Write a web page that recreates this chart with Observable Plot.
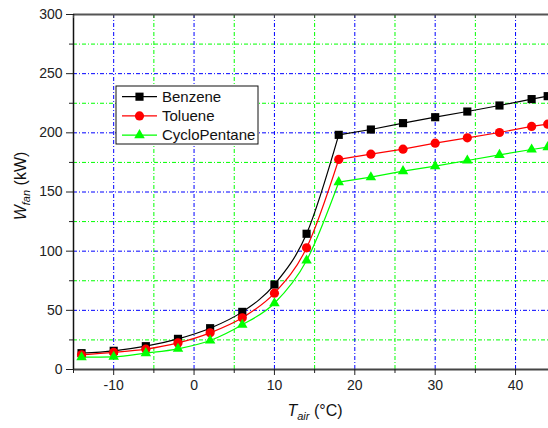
<!DOCTYPE html>
<html>
<head>
<meta charset="utf-8">
<script src="https://cdn.jsdelivr.net/npm/d3@7"></script>
<script src="https://cdn.jsdelivr.net/npm/@observablehq/plot@0.6"></script>
<style>
  html, body { margin: 0; padding: 0; background: white; overflow: hidden; }
  #chart svg { display: block; }
</style>
</head>
<body>
<div id="chart"></div>
<script>
// ---- data ----
const temps = [-14, -10, -6, -2, 2, 6, 10, 14, 18, 22, 26, 30, 34, 38, 42, 44];
const benzene = [13.8, 15.8, 19.7, 25.9, 34.9, 48.7, 71.8, 114.7, 198.3, 202.8, 208.2, 213.2, 218.0, 223.1, 228.5, 231.0];
const toluene = [12.4, 14.4, 17.2, 22.5, 31.0, 43.7, 64.5, 102.8, 177.5, 182.0, 186.2, 191.3, 195.8, 200.3, 205.4, 207.3];
const cyclo = [10.4, 10.7, 13.8, 17.5, 24.5, 37.8, 56.0, 92.1, 158.3, 162.5, 167.6, 171.8, 176.6, 181.4, 185.9, 187.9];
const seriesNames = ["Benzene", "Toluene", "CycloPentane"];
const seriesColors = ["#000000", "#ff0000", "#00ff00"];
const seriesSymbols = ["square", "circle", "triangle"];
const seriesR = [4.6, 4.6, 3.9];
const xMajor = [-10, 0, 10, 20, 30, 40];
const xMinor = [-15, -5, 5, 15, 25, 35];
const yMajor = [0, 50, 100, 150, 200, 250, 300];
const yMinor = [25, 75, 125, 175, 225, 275];
const breakT = 18; // the curves bend sharply at this temperature

const valuesBySeries = [benzene, toluene, cyclo];
const rows = [];
seriesNames.forEach((name, i) => {
  temps.forEach((t, j) => rows.push({series: name, t, w: valuesBySeries[i][j]}));
});

const dash = "4,2,1,2";
const marks = [
  Plot.ruleX(xMinor.filter(v => v > -15), {stroke: "#00ff00", strokeWidth: 1, strokeDasharray: dash}),
  Plot.ruleY(yMinor, {stroke: "#00ff00", strokeWidth: 1, strokeDasharray: dash}),
  Plot.ruleX(xMajor, {stroke: "#0000ff", strokeWidth: 1, strokeDasharray: dash}),
  Plot.ruleY(yMajor.filter(v => v > 0 && v < 300), {stroke: "#0000ff", strokeWidth: 1, strokeDasharray: dash}),
];
seriesNames.forEach((name, i) => {
  const d = rows.filter(r => r.series === name);
  marks.push(Plot.line(d.filter(r => r.t <= breakT), {x: "t", y: "w", stroke: seriesColors[i], strokeWidth: 1.2, curve: "monotone-x"}));
  marks.push(Plot.line(d.filter(r => r.t >= breakT), {x: "t", y: "w", stroke: seriesColors[i], strokeWidth: 1.2}));
});
seriesNames.forEach((name, i) => {
  marks.push(Plot.dot(rows.filter(r => r.series === name), {x: "t", y: "w", symbol: seriesSymbols[i], r: seriesR[i], fill: seriesColors[i], stroke: "none"}));
});
marks.push(
  Plot.ruleY([300], {stroke: "#555", strokeWidth: 2}),
  Plot.ruleY([0], {stroke: "#444", strokeWidth: 2}),
  Plot.ruleX([-15], {stroke: "#111", strokeWidth: 1.5}),
  Plot.axisX({ticks: xMajor, tickSize: 6, tickPadding: 5, tickFormat: d => String(d), label: null, stroke: "#222", fill: "#222", fontSize: 14}),
  Plot.axisX({ticks: xMinor, tickSize: 4, tickFormat: () => "", label: null, stroke: "#222"}),
  Plot.axisX({anchor: "top", ticks: xMajor.concat(xMinor), tickSize: -3, tickFormat: () => "", label: null, stroke: "#444"}),
  Plot.axisY({ticks: yMajor, tickSize: 7, tickPadding: 4, tickFormat: d => String(d), label: null, stroke: "#222", fill: "#222", fontSize: 14}),
  Plot.axisY({ticks: yMinor, tickSize: 4, tickFormat: () => "", label: null, stroke: "#222"})
);

const chart = Plot.plot({
  width: 548,
  height: 428,
  marginLeft: 73,
  marginRight: 0,
  marginTop: 14,
  marginBottom: 59,
  x: {domain: [-15, 44.1]},
  y: {domain: [0, 300]},
  style: {fontFamily: "'Liberation Sans', Arial, sans-serif", fontSize: "14px", background: "white", color: "#222", overflow: "hidden"},
  marks
});
document.getElementById("chart").appendChild(chart);

// ---- titles and legend ----
const svg = d3.select(chart);
const font = "'Liberation Sans', Arial, sans-serif";

const xt = svg.append("text").attr("x", 315).attr("y", 416).attr("text-anchor", "middle")
  .attr("font-family", font).attr("font-size", 16).attr("fill", "#111");
xt.append("tspan").attr("font-style", "italic").text("T");
xt.append("tspan").attr("font-style", "italic").attr("font-size", 11).attr("dy", 4).text("air");
xt.append("tspan").attr("dy", -4).text(" (°C)");

const yt = svg.append("text").attr("transform", "translate(26,186) rotate(-90)").attr("text-anchor", "middle")
  .attr("font-family", font).attr("font-size", 16).attr("fill", "#111");
yt.append("tspan").attr("font-style", "italic").text("W");
yt.append("tspan").attr("font-style", "italic").attr("font-size", 11).attr("dy", 4).text("fan");
yt.append("tspan").attr("dy", -4).text(" (kW)");

const lg = svg.append("g");
lg.append("rect").attr("x", 116).attr("y", 86).attr("width", 142).attr("height", 58)
  .attr("fill", "white").attr("stroke", "#111").attr("stroke-width", 1);
const symMap = {square: d3.symbolSquare, circle: d3.symbolCircle, triangle: d3.symbolTriangle};
seriesNames.forEach((name, i) => {
  const yy = 96.7 + i * 19.2;
  lg.append("line").attr("x1", 122).attr("x2", 157).attr("y1", yy).attr("y2", yy)
    .attr("stroke", seriesColors[i]).attr("stroke-width", 1.2);
  lg.append("path").attr("transform", `translate(139.5,${yy})`)
    .attr("d", d3.symbol(symMap[seriesSymbols[i]], Math.PI * seriesR[i] * seriesR[i])())
    .attr("fill", seriesColors[i]);
  lg.append("text").attr("x", 162).attr("y", yy).attr("dy", "0.35em").attr("text-anchor", "start")
    .attr("font-family", font).attr("font-size", 15).attr("fill", "#111").text(name);
});
</script>
</body>
</html>
